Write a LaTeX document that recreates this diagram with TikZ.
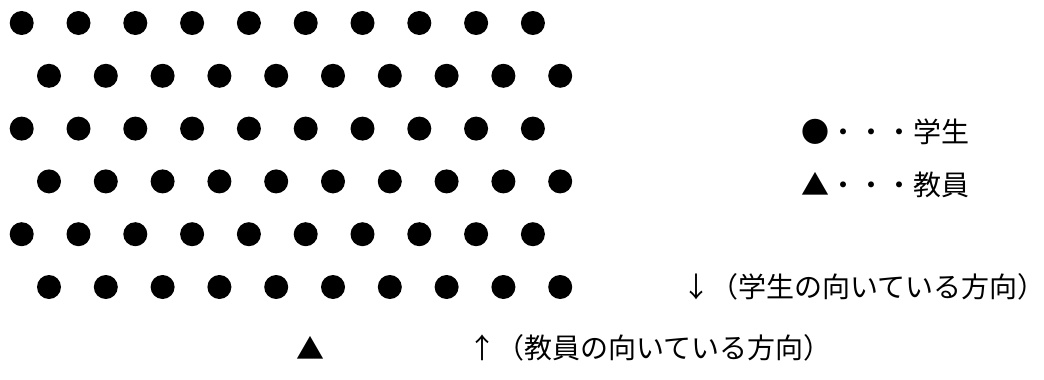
\documentclass[tikz,border=0pt]{standalone}
\usepackage{fontspec}
\newfontfamily\jpfont{Noto Sans CJK JP}
\usepackage{tikz}
\usetikzlibrary{positioning}

\begin{document}
\begin{tikzpicture}[x=0.5pt, y=-0.5pt,
    every node/.style={font=\jpfont\fontsize{14}{17}\selectfont, inner sep=0pt},
    seat/.style={circle, fill=black, minimum size=12pt}]
    \useasboundingbox (0,0) rectangle (1044,380);
    % 学生の席 (6 rows, alternately shifted)
    \foreach \r in {0,...,5} {
      \pgfmathsetmacro{\off}{mod(\r,2)*27.3}
      \foreach \c in {0,...,9} {
        \node[seat] (s-\r-\c) at ({21.7+\off+56.8*\c},{23+52.8*\r}) {};
      }
    }
    % 凡例
    \node[anchor=west] (leg-s) at (801,132) {●・・・学生};
    \node[anchor=west] (leg-t) at (801,185) {▲・・・教員};
    % 向き
    \node[anchor=west] (dir-s) at (682,287) {↓（学生の向いている方向）};
    \node (teacher) at (310,348) {▲};
    \node[anchor=west] (dir-t) at (468,348) {↑（教員の向いている方向）};
  \end{tikzpicture}
\end{document}
